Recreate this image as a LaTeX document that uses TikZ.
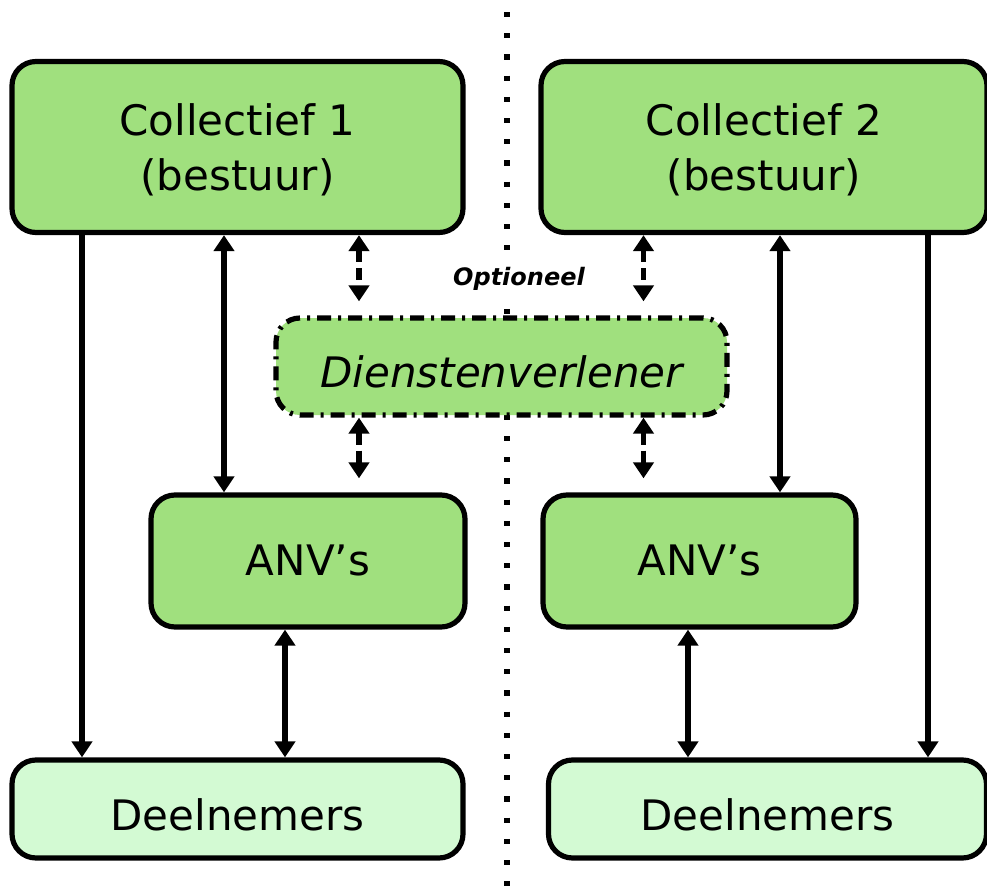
\documentclass[tikz,border=0pt]{standalone}
\usepackage{fontspec}
\setmainfont{DejaVu Sans}
\usetikzlibrary{arrows.meta}

\definecolor{groen}{HTML}{A0E07E}
\definecolor{lichtgroen}{HTML}{D3FAD3}

\begin{document}
\begin{tikzpicture}
[x=0.5pt,y=-0.5pt,%
  box/.style={shape=rectangle,rounded corners=12pt,draw,line width=2.6pt,fill=groen,align=center,font=\fontsize{21}{27.5}\selectfont},%
  pijl/.style={-{Triangle[width=10pt,length=8pt]},line width=2.6pt},%
  pijl2/.style={{Triangle[width=10pt,length=8pt]}-{Triangle[width=10pt,length=8pt]},line width=2.6pt},%
  optie/.style={pijl2,dash pattern=on 6pt off 3pt,shorten >=7pt}]
\useasboundingbox (0,0) rectangle (987,895);
% scheidingslijn
\draw[line width=2.6pt,dash pattern=on 2.6pt off 8pt] (507,12) -- (507,895);
% bovenste laag
\node[box,minimum width=225.5pt,minimum height=85.5pt,text depth=0pt] (c1) at (237.5,147) {Collectief 1\\(bestuur)};
\node[box,minimum width=223pt,minimum height=85.5pt,text depth=0pt] (c2) at (764,147) {Collectief 2\\(bestuur)};
% optionele dienstverlener
\node[box,dash pattern=on 7pt off 3.5pt on 1.5pt off 3.5pt,minimum width=225.5pt,minimum height=48.5pt,
  text height=26pt,text depth=5pt,font=\fontsize{21}{25}\selectfont\itshape] (dien) at (501.5,366.5) {Dienstenverlener};
\node[fill=white,inner sep=1pt,font=\fontsize{12}{14}\selectfont\bfseries\itshape] (opt) at (519,279) {Optioneel};
% ANV's
\node[box,minimum width=157pt,minimum height=66pt,text height=19pt,text depth=5pt] (anv1) at (308,561) {ANV’s};
\node[box,minimum width=156.5pt,minimum height=66pt,text height=19pt,text depth=5pt] (anv2) at (699.5,561) {ANV’s};
% deelnemers
\node[box,fill=lichtgroen,minimum width=225.5pt,minimum height=49pt,text height=26pt,text depth=5pt] (d1) at (237.5,809) {Deelnemers};
\node[box,fill=lichtgroen,minimum width=219pt,minimum height=49pt,text height=26pt,text depth=5pt] (d2) at (767.5,809) {Deelnemers};
% verbindingen links
\draw[pijl] ([xshift=-77.75pt]c1.south) -- ([xshift=-77.75pt]c1.south |- d1.north);
\draw[pijl2] ([xshift=-42pt]anv1.north) -- ([xshift=-42pt]anv1.north |- c1.south);
\draw[pijl2] ([xshift=-11.5pt]anv1.south) -- ([xshift=-11.5pt]anv1.south |- d1.north);
\draw[optie] ([xshift=-71.25pt]dien.north |- c1.south) -- ([xshift=-71.25pt]dien.north);
\draw[optie] ([xshift=-71.25pt]dien.south) -- ([xshift=-71.25pt]dien.south |- anv1.north);
% verbindingen rechts
\draw[pijl] ([xshift=82pt]c2.south) -- ([xshift=82pt]c2.south |- d2.north);
\draw[pijl2] ([xshift=40.25pt]anv2.north) -- ([xshift=40.25pt]anv2.north |- c2.south);
\draw[pijl2] ([xshift=-5.75pt]anv2.south) -- ([xshift=-5.75pt]anv2.south |- d2.north);
\draw[optie] ([xshift=71pt]dien.north |- c2.south) -- ([xshift=71pt]dien.north);
\draw[optie] ([xshift=71pt]dien.south) -- ([xshift=71pt]dien.south |- anv2.north);
\end{tikzpicture}
\end{document}
